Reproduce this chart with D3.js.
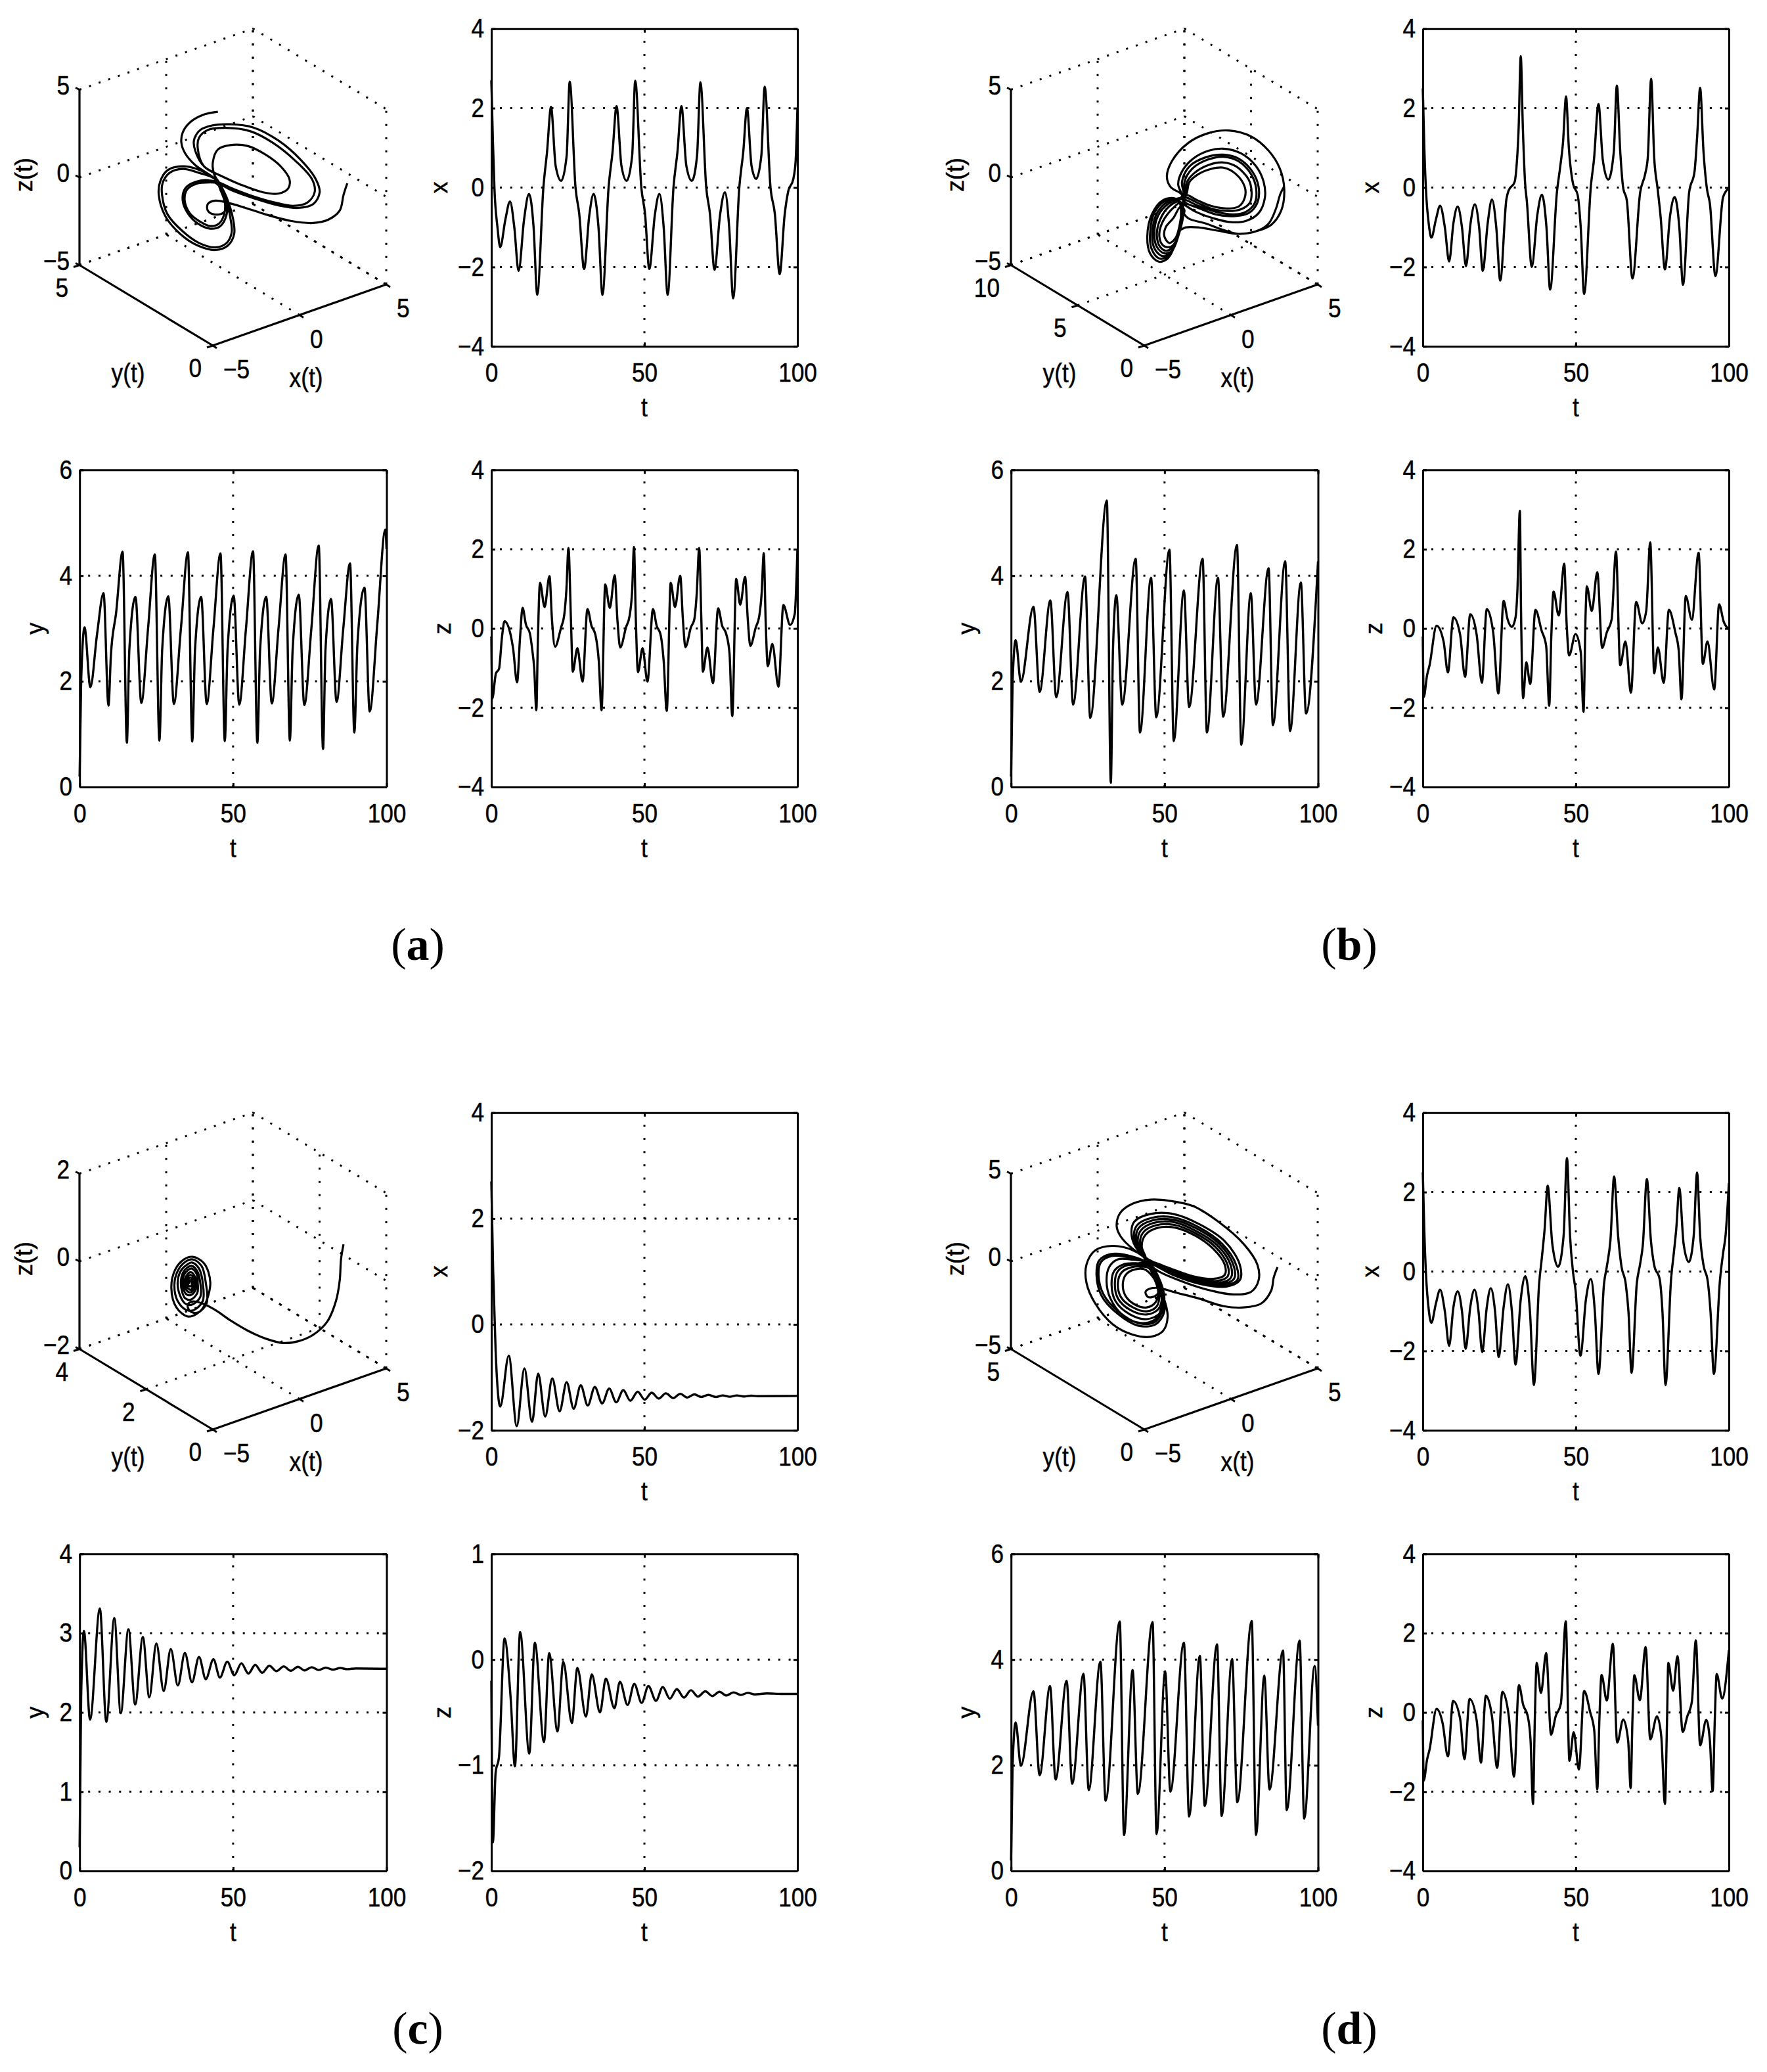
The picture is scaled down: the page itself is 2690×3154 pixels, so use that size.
<!DOCTYPE html>
<html><head><meta charset="utf-8">
<script src="https://cdn.jsdelivr.net/npm/d3@7"></script>
<style>html,body{margin:0;background:#fff}svg{display:block}text{font-family:"Liberation Sans",Arial,sans-serif;fill:#000;stroke:#000;stroke-width:.5px}.cap{stroke-width:0}</style>
</head><body><div id="chart"></div>
<script>
// ---- tick labels ----
const tTicks=[0,50,100];
const xTicksWide=[-4,-2,0,2,4], yTicksWide=[0,2,4,6], zTicksWide=[-4,-2,0,2,4];
const xTicksC=[-2,0,2,4], yTicksC=[0,1,2,3,4], zTicksC=[-2,-1,0,1];
// ---- time series [t, value] ----
const aX=[[0,2.7],[0.5,1.2],[1,0],[2,-1],[2.9,-1.5],[4.6,-.8],[6.1,-.35],[7.5,-1],[8.9,-2.1],[10.7,-.8],[12.3,-.16],[13.8,-1],[15,-2.7],[17,0],[18.2,.9],[19.5,2.03],[21,.55],[22.8,.17],[24.6,.8],[25.6,2.67],[27.5,0],[28.7,-.65],[30.3,-2.05],[32,-.7],[33.4,-.16],[35,-1],[36.3,-2.7],[38.3,0],[39.6,.9],[40.9,2.05],[42.5,.55],[44.2,.17],[46,.8],[47,2.69],[49,0],[50.2,-.65],[51.6,-2.05],[53.4,-.7],[54.9,-.16],[56.3,-1],[57.6,-2.7],[59.5,0],[60.8,.9],[62.1,2.05],[63.7,.55],[65.5,.17],[67.2,.8],[68.3,2.65],[70.2,0],[71.4,-.65],[72.9,-2.07],[74.7,-.7],[76.3,-.12],[77.7,-1],[79,-2.79],[81,0],[82.3,.9],[83.5,2],[85,.55],[86.5,.22],[88.2,.8],[89.3,2.54],[91.2,0],[92.6,-.65],[94.2,-2.18],[95.8,-.7],[97,-.09],[98.6,.2],[99.4,.66],[100,2]];
const aY=[[0,.2],[.5,2],[1.6,3.02],[3.5,1.89],[5.7,2.9],[7.8,3.67],[9.4,1.54],[10.2,2.5],[11.9,3.3],[14,4.45],[15.4,.84],[16.2,2.6],[18.2,3.6],[20.1,1.59],[22.3,3],[24.5,4.4],[26,.88],[26.9,2.6],[28.9,3.61],[30.7,1.57],[33,3],[35.3,4.44],[36.7,.86],[37.6,2.6],[39.6,3.6],[41.4,1.57],[43.6,3],[45.9,4.42],[47.3,.87],[48.2,2.6],[50.2,3.62],[52,1.56],[54.2,3],[56.5,4.46],[57.9,.84],[58.8,2.6],[60.8,3.6],[62.6,1.58],[64.8,3],[67.1,4.4],[68.5,.88],[69.4,2.6],[71.4,3.64],[73.2,1.55],[75.5,3],[77.9,4.57],[79.3,.72],[80.1,2.6],[81.9,3.56],[83.7,1.61],[85.9,3],[88.1,4.23],[89.5,1.03],[90.5,2.7],[92.8,3.77],[94.5,1.43],[97,3.1],[99.6,4.87],[100,4.5]];
const aZ=[[0,-.2],[.3,-1.77],[1.5,-1.13],[2.5,-1.02],[3.5,-.2],[4.3,.18],[6.3,-.16],[7.1,-.5],[8.4,-1.36],[9.4,-.2],[10.2,.52],[11.3,.1],[12.6,-.13],[13.4,-.56],[14,-1],[14.7,-2.06],[15.2,-.3],[15.9,1.15],[17.4,.54],[19,1.32],[19.8,.23],[20.8,-.46],[22.8,.03],[23.8,.33],[24.5,.95],[25.2,2.03],[26,.23],[26.6,-1.09],[28.1,-.5],[29.8,-1.34],[31.4,.49],[32.7,.07],[34,-.16],[35.1,-.82],[36,-2.06],[37.2,1.11],[38.7,.52],[40.3,1.34],[41.2,.2],[42.1,-.48],[44,.03],[45.2,.33],[46,.95],[46.6,2.06],[47.2,.23],[47.9,-1.1],[49.4,-.5],[51,-1.34],[52.8,.49],[54,.07],[55.3,-.16],[56.3,-.82],[57.3,-2.08],[58.6,1.15],[60,.54],[61.7,1.33],[62.6,.2],[63.4,-.47],[65.2,.03],[66.3,.23],[67.1,.88],[67.9,2.03],[68.6,.23],[69.1,-1.09],[70.6,-.48],[72.4,-1.38],[74.1,.51],[75.4,.07],[76.7,-.13],[77.8,-.62],[78.7,-2.21],[80,1.25],[81.3,.6],[82.9,1.3],[83.8,.2],[84.6,-.44],[86.4,.03],[87.5,.3],[88.3,.88],[89,1.9],[89.6,.23],[90.3,-.95],[91.8,-.39],[93.8,-1.47],[95.4,.59],[97.6,.09],[99.1,.36],[100,2]];
const bX=[[0,2.5],[.5,1],[1,0],[2,-.95],[2.8,-1.26],[4.3,-.8],[5.65,-.46],[7.2,-1],[8.6,-1.86],[10,-.9],[11.4,-.48],[12.8,-1],[14.1,-1.98],[15.6,-.9],[17,-.42],[18.4,-1],[19.6,-2.1],[21.2,-.9],[22.6,-.3],[24,-1],[25.3,-2.34],[27.3,-.3],[28,-.08],[30,.14],[30.5,.42],[31.3,1.47],[32,3.31],[32.7,1.47],[33.4,.14],[34,-.35],[35.6,-2],[37.4,-.7],[38.9,-.18],[40.4,-1],[41.6,-2.57],[43.8,-.13],[44.8,.47],[45.8,1.13],[46.8,2.29],[47.7,1.02],[49.1,.09],[50.6,-.19],[51.6,-1.01],[52.7,-2.68],[54.9,.03],[55.9,.69],[57.4,2.1],[58.8,.7],[60.6,.2],[62.4,.9],[63.4,2.57],[64.5,.91],[65.4,.03],[66.7,-.35],[68.5,-2.29],[71,-.13],[72.7,.36],[73.5,.75],[74.6,2.74],[75.6,.75],[76.7,-.02],[77.7,-.74],[79.1,-2.06],[80.8,-.7],[82.3,-.24],[83.8,-1],[85,-2.45],[87,-.13],[88.8,.42],[89.6,1.25],[90.6,2.51],[91.7,.91],[92.8,-.02],[93.8,-.41],[95.6,-2.23],[98.1,-.24],[100,-.02]];
const bY=[[0,.2],[.5,2],[1.5,2.78],[3.2,1.99],[7.3,3.41],[9.3,1.8],[12.8,3.53],[14.7,1.7],[18.4,3.69],[20.2,1.56],[24.1,3.98],[25.8,1.31],[31.2,5.42],[32.5,.08],[33.2,2.6],[34.3,3.63],[36.2,1.56],[40.6,4.32],[42,1.03],[45.6,3.96],[47.3,1.32],[51.6,4.49],[53,.87],[56.3,3.72],[58,1.51],[62.4,4.32],[63.8,1.03],[67.4,3.96],[69.1,1.33],[73.6,4.58],[75,.8],[78.1,3.67],[79.8,1.56],[83.9,4.14],[85.3,1.17],[89.3,4.27],[90.9,1.06],[94.4,3.87],[96.1,1.39],[100,4.27]];
const bZ=[[0,-.2],[.3,-1.73],[1.4,-1.18],[2.2,-.93],[4.5,.07],[6.8,-.33],[8.2,-1.11],[10,.28],[12.2,-.16],[13.8,-1.22],[15.5,.36],[17.6,-.16],[19.3,-1.37],[20.9,.49],[23,-.1],[24.7,-1.64],[26.4,.7],[27.7,.23],[29.1,.04],[30.3,.28],[30.9,.94],[31.7,2.97],[32.1,.4],[32.8,-1.76],[33.8,-.85],[35.1,-1.4],[36.8,.47],[38.8,-.05],[40.3,-.44],[41.3,-1.95],[42,-.16],[42.7,.93],[44.4,.33],[46.2,1.63],[47,.1],[47.8,-.68],[49.9,-.14],[51.6,-.6],[52.5,-2.1],[53.2,.4],[53.6,1.06],[55.2,.44],[57,1.42],[58.6,-.49],[60.1,-.1],[61.7,.23],[63.1,1.94],[64.5,-.93],[66.2,-.33],[68,-1.62],[69.7,.67],[71.7,.13],[73,.45],[74.3,2.17],[75.6,-1.13],[76.8,-.48],[78.7,-1.37],[80.4,.47],[82.5,-.1],[83.6,-.55],[84.5,-1.79],[85.9,.82],[87.9,.22],[90.1,1.91],[91.5,-.89],[93,-.33],[95.2,-1.54],[96.8,.61],[98.3,.17],[100,-.02]];
const cX=[[0,2.7],[.6,1],[1.4,-.5],[2.9,-1.55],[5.7,-.59],[8.3,-1.92],[10.8,-.83],[13.3,-1.84],[15.3,-.93],[17.6,-1.74],[19.9,-1.02],[22.3,-1.64],[24.6,-1.09],[26.9,-1.59],[29.2,-1.15],[31.5,-1.53],[33.8,-1.18],[36.2,-1.49],[38.5,-1.21],[40.8,-1.47],[43.1,-1.24],[45.4,-1.44],[47.8,-1.27],[50.1,-1.42],[52.4,-1.29],[54.7,-1.4],[57,-1.3],[59.4,-1.39],[61.7,-1.31],[64,-1.38],[66.3,-1.32],[68.6,-1.37],[70.9,-1.33],[73.3,-1.37],[75.6,-1.34],[77.9,-1.365],[80.2,-1.34],[82.5,-1.36],[84.9,-1.345],[87,-1.355],[100,-1.35]];
const cY=[[0,.3],[.5,2.2],[1.4,3.03],[3.4,1.91],[6.6,3.31],[8.7,1.88],[11.3,3.19],[13.4,1.99],[15.9,3.05],[18.1,2.1],[20.6,2.95],[22.7,2.19],[25,2.87],[27.4,2.27],[29.7,2.8],[32,2.34],[34.3,2.75],[36.6,2.38],[38.9,2.7],[41.1,2.42],[43.6,2.67],[45.7,2.44],[48.1,2.64],[50.4,2.47],[52.7,2.62],[55,2.49],[57.2,2.6],[59.5,2.5],[61.8,2.59],[64.1,2.52],[66.5,2.58],[68.8,2.525],[71.1,2.575],[73.3,2.53],[75.6,2.57],[77.9,2.535],[80.2,2.565],[82.5,2.54],[84.9,2.56],[87.2,2.545],[90,2.555],[100,2.55]];
const cZ=[[0,-.2],[.5,-1.73],[1.4,-1.07],[2.5,-.92],[4.3,.2],[6.3,-.36],[7.7,-1.01],[9.4,.26],[12.4,-.89],[14.2,.16],[17.2,-.78],[18.9,.06],[21.6,-.68],[23.5,-.02],[26.3,-.6],[28.1,-.08],[30.9,-.54],[32.8,-.14],[35.5,-.5],[37.4,-.18],[40.2,-.46],[42,-.21],[44.5,-.43],[46.7,-.23],[49.1,-.41],[51.3,-.25],[53.8,-.39],[56,-.26],[58.3,-.37],[60.6,-.28],[62.9,-.36],[65.2,-.29],[67.5,-.35],[69.9,-.3],[72.2,-.345],[74.5,-.305],[76.8,-.34],[79.1,-.31],[81.5,-.335],[83.8,-.315],[86.1,-.33],[90,-.32],[95,-.325],[100,-.325]];
const dX=[[0,2.5],[.5,1],[1,0],[2,-1],[2.8,-1.29],[4.3,-.8],[5.65,-.46],[7.2,-1],[8.6,-1.87],[10,-.9],[11.4,-.5],[12.8,-1],[14,-1.95],[15.5,-.9],[16.9,-.46],[18.2,-1],[19.4,-2.03],[20.9,-.9],[22.2,-.42],[23.6,-1],[24.8,-2.15],[26.4,-.9],[27.8,-.32],[29.1,-1],[30.3,-2.34],[32,-.7],[33.5,-.12],[35,-1],[36.3,-2.86],[38,-.31],[38.9,.35],[39.8,1.07],[40.8,2.16],[42.3,.7],[44.2,.12],[46,.9],[47.1,2.86],[48.1,.9],[49.1,-.03],[49.9,-.47],[51.5,-2.12],[53.3,-.7],[54.9,-.19],[56.2,-1],[57.4,-2.58],[59.2,-.31],[60.2,.16],[61.3,.79],[62.5,2.39],[63.8,.9],[64.9,.13],[66.3,-.31],[67.2,-1.02],[68.2,-2.55],[69.9,-.31],[71,.19],[71.9,.68],[73.2,2.33],[74.5,.8],[75.6,.16],[77.4,-.2],[78.3,-1.02],[79.3,-2.86],[81.1,-.2],[82,.46],[82.8,1.07],[83.8,2.1],[85.2,.7],[86.9,.24],[88.5,.9],[89.6,2.49],[90.6,.9],[91.7,.16],[93.1,-.25],[94,-1.02],[95.1,-2.58],[97.1,-.2],[98.1,.46],[98.9,.9],[100,2.23]];
const dY=[[0,.2],[.5,2],[1.5,2.81],[3.2,1.99],[7.3,3.4],[9.3,1.81],[12.7,3.5],[14.5,1.73],[18.1,3.6],[19.9,1.65],[23.6,3.73],[25.3,1.53],[29.1,3.96],[30.8,1.33],[35.4,4.72],[36.8,.68],[39.6,3.8],[41.3,1.46],[46.1,4.71],[47.4,.7],[50.2,3.78],[51.9,1.5],[56.3,4.32],[58,1.03],[61.5,4.07],[63.1,1.23],[67.1,4.29],[68.6,1.04],[72,4.01],[73.7,1.3],[78.4,4.73],[79.8,.68],[82.5,3.7],[84.2,1.54],[88.6,4.17],[89.8,1.15],[94,4.36],[95.5,.99],[98.9,3.88],[100,2.75]];
const dZ=[[0,-.2],[.3,-1.72],[1.4,-1.19],[2.2,-.94],[4.5,.09],[6.5,-.28],[8.2,-1.11],[9.9,.29],[12.2,-.16],[13.6,-1.18],[15.3,.34],[17.6,-.2],[19,-1.27],[20.6,.42],[22.6,-.1],[24.3,-1.4],[26,.52],[28.1,-.1],[29.8,-1.62],[31.4,.69],[32.8,.19],[34.3,-.1],[35.2,-.7],[36,-2.31],[36.6,-.16],[37.2,1.25],[38.6,.49],[40.3,1.5],[41.9,-.56],[43.4,-.1],[45.1,.22],[46.7,2.3],[47.9,-1.22],[49.3,-.5],[51,-1.44],[52.7,.54],[54.7,0],[56,-.45],[57,-1.94],[57.7,-.16],[58.4,.95],[60.1,.3],[62.1,1.73],[63.5,-.76],[65.5,-.18],[67.1,-.72],[67.9,-1.91],[68.5,-.16],[69.1,.94],[70.9,.31],[72.8,1.65],[74.3,-.68],[76.5,-.1],[77.9,-.6],[79.1,-2.31],[79.8,-.16],[80.2,1.25],[81.8,.55],[83.2,1.42],[84.9,-.49],[86.4,-.1],[87.9,.27],[89.2,1.82],[90.6,-.83],[92.6,-.19],[93.8,-.72],[94.7,-1.99],[95.4,-.16],[96,.97],[97.8,.35],[100,1.57]];
// ---- phase portraits as seen on the page: [across, up], read in the 3-D box (0–122 each way) ----
const aTail=[[106.5,62.5],[105,58],[103.5,52],[99,48.5],[93,47.2],[84,48],[74,50.5],[66,53],[59,55],[54,55.8],[51,54.5],[51,52],[53.5,50.5],[57,51],[58.5,53.5],[57.5,58],[55.5,61.5]];
const aLow1=[[52,63.5],[46,63],[42,60.5],[41,56],[43,51],[47,47],[52,45],[56,46],[58.5,50.5],[58.5,55],[56.5,60],[54,64]];
const aLow1b=[[52,62.8],[46.5,62.3],[42.7,60],[41.8,56],[43.8,51],[47.8,47.8],[52,46],[55.5,47],[57.5,50.5],[57.8,55],[56,60],[54,64]];
const aLow2=[[48,67.5],[41,69],[35,67.5],[32,63],[31.5,58],[34,50],[40,43],[47,38.5],[54,36.8],[59,38.5],[61.5,43],[61,49],[58.5,57],[56,62],[53.5,66]];
const aLow2b=[[47.5,66.5],[41,68],[35.8,66.5],[33,62.5],[32.8,58],[35,50.5],[41,44],[47.5,39.5],[54,37.8],[58.5,39.5],[60.5,43.5],[60,49],[58,57],[55.5,62],[53.5,66]];
const aUp1=[[53,70.5],[55,75.5],[60,77.2],[67,76.8],[74,73.5],[80,69],[83.5,64],[83,60.5],[79,58.5],[73,59],[64,62],[57,65]];
const aUp2=[[49.5,69],[46,75],[45.5,79],[48,83],[53,84.8],[60,85.2],[69,84],[79,79],[88,71.5],[94,64],[95.5,59],[93,54.5],[87,53],[79,54],[70,56.5],[60,60],[55,62.5]];
const aUp2b=[[49.5,69],[47,76],[47.5,80],[51,83],[58,83.8],[68,82.5],[77,78],[86,71],[92.5,64],[93.5,59],[90.5,55],[85,53.8],[78,55],[69,57.5],[60,60.8],[55,63]];
const aEnd=[[46,69.5],[42,74],[40.5,78],[41,82],[44,86],[49,88.8],[55,90]];
const phaseA=[...aTail,...aLow1,...aLow2,...aUp1,...aUp2,...aLow1b,...aLow2b,...aUp1,...aUp2b,...aLow1,...aLow2,...aUp1,...aUp2,...aLow1b,...aLow2b,...aUp1,...aUp2b,...aLow1,...aEnd];
const bTail=[[108.5,61],[107,58],[105.5,53],[102.5,47],[97.5,44],[90.5,43],[82.5,44.2],[74.5,45.5],[69.5,45.5],[67,44.5],[67.5,48],[69,52]];
const bLow1=[[67.5,53.5],[64.5,49],[61.5,45.5],[61,42],[63,39.5],[65.5,41.5],[67,46],[68,52]];
const bLow2=[[67.5,55],[63.5,52],[60,47],[59,42],[60.5,38.5],[63.5,38],[66,41],[67.5,48]];
const bLow25=[[66.8,55.5],[62.8,53.5],[59.3,48.5],[58,42.5],[59.3,38],[62,36.5],[65,39],[67.5,47],[68.3,52]];
const bLow3=[[66.5,56],[62.5,54.5],[58.5,50],[57,43],[58,38],[61,35.5],[64,36.5],[66.5,42],[68.5,52]];
const bLow35=[[66.2,56.2],[62,55.2],[57.8,50.5],[56.2,43],[57,37.5],[60,34.5],[63.2,35.5],[66,41],[68.4,52.5]];
const bLow4=[[66,56.3],[61.5,55.8],[57,51],[55.3,43],[56,37],[59,33.5],[62.5,34.5],[65.5,40],[68.3,53]];
const bLow5=[[65.5,56.5],[60.5,56],[56,50.5],[54.2,42],[55.3,35.5],[58.7,32.3],[62.3,33.5],[65.3,39],[68.3,53.5]];
const bUp1=[[68,58],[63.5,61],[62,65],[64,71],[70.5,78],[78.5,81.8],[86.5,82.8],[95.5,80.5],[102.5,75],[107,68],[108.7,60],[107.5,52],[103.5,46.5],[97.5,44],[90.5,43],[84.5,44.5],[77.5,47],[70.5,49],[68,52]];
const bUp2=[[68.5,57],[66.5,62],[68,67],[72.5,72],[78.5,75],[84.5,75.8],[91.5,74],[97.5,69],[100.5,63],[101,57],[98.5,51],[93.5,48],[87.5,47.5],[80.5,49],[73.5,51.5],[68.5,54.5]];
const bUp3=[[68.8,58],[68,63],[71,69],[77.5,72.5],[84.5,73.5],[90.5,72],[96,67],[98.5,61],[98,55],[94.5,51],[88.5,49.8],[81.5,50.5],[74.5,53],[69,55.5]];
const bUp3b=[[69.1,58.5],[69,63],[72,68],[78,71.5],[84.5,72.7],[90.5,71],[95.5,66],[97.5,60.5],[97,55],[93.5,51.5],[88.5,50.5],[81.5,51.5],[74.5,53.8],[69,56.2]];
const bUp4=[[69.5,58.5],[70,63],[73,66.5],[78.5,69.5],[84.5,70.5],[89.5,69],[94.5,64],[95.7,59],[95,55],[91.5,52.5],[86.5,51.8],[80.5,52.5],[74.5,54.8],[69.5,57]];
const bUp5=[[70,59],[71,63],[74.5,66],[79.5,68],[84.5,68.5],[89.5,66],[93,61],[93,57],[90.5,53.5],[85.5,52.8],[79.5,53.8],[74,56],[69.5,58]];
const phaseB=[...bTail,...bLow1,...bLow2,...bLow25,...bLow3,...bLow35,...bLow4,...bLow5,...bUp1,...bLow3,...bLow4,...bUp4,...bLow5,...bUp3,...bUp5,...bLow35,...bUp2,...bLow25,...bLow5,...bUp3b,...bLow4];
const cTail=[[105,71.3],[104,65.5],[103.5,57.5],[102,49.5],[98.5,41.5],[93,36.5],[87,34],[81,33.3],[74,35],[67,38],[60,42],[54,46],[49,48.5],[45,49.3],[43,48],[44,45.5],[47,45],[49.5,47.5]];
const cRing1=[[52,56.5],[49.5,64],[45,66.5],[41.5,65.5],[38,61.5],[36.5,54.5],[38.5,47],[43,43.5],[46.5,44.5],[50.5,48.5]];
const cRing2=[[50.2,56.5],[48.5,63],[45,65.5],[42,64.5],[39,61],[37.7,55.5],[39,49.5],[42.5,46],[45.5,46],[49,49.5]];
const cRing3=[[49,56.5],[47.5,62],[44.7,64.3],[42.5,63.3],[40.2,61],[39,56.5],[40,51.5],[42,48.5],[44.5,48],[48,51]];
const cRing4=[[48,56.5],[46.8,61],[44.5,63],[42.8,62.3],[41.2,60.5],[40.3,57],[40.8,53],[42,50.5],[44.2,50],[46.8,52.5]];
const cRing5=[[47,56.5],[46.5,60],[44.5,62],[43,61.3],[41.8,60],[41,57.2],[41.3,54.5],[42.2,52.3],[44,51.7],[46,53.5]];
const cRing6=[[46.4,56.5],[45.8,59],[44.5,60.5],[43.4,60.3],[42.4,59],[41.8,57],[42,54.8],[42.8,53.3],[44,52.8],[45.4,54.2]];
const cRing7=[[45.6,56.5],[45.2,58.5],[44.3,59.5],[43.4,59.2],[42.8,58],[42.4,56.8],[42.6,55.3],[43.3,54.2],[44.2,53.8],[45,55]];
const cRing8=[[45,56.5],[44.6,58],[44,58.5],[43.4,58],[43.1,57],[43.1,56],[43.6,55.2],[44.2,55.2],[44.7,55.8],[44.6,57],[44,57.5],[43.7,57],[43.7,56.5],[44.1,56.3]];
const phaseC=[...cTail,...cRing1,...cRing2,...cRing3,...cRing4,...cRing5,...cRing6,...cRing7,...cRing8];
const dTail=[[106,62.5],[104.5,58.5],[103.5,53.5],[99.5,48.5],[92.5,47],[84.5,47.5],[74.5,50.5],[64.5,53],[59,54.5],[55.5,54.3],[53.5,53],[54.5,51],[57.5,51.5],[59,54]];
const dLow1=[[53.5,61.5],[49.5,61.7],[46,60],[44.5,56.5],[45.5,51.5],[49.5,48],[54,47],[57.5,49],[58.5,53.5],[57,58],[55,62]];
const dLow2=[[52.5,62.7],[48,62.5],[44,60.5],[42.5,56.5],[43.7,51],[48.5,47],[54,45.5],[58,47.5],[59,52.5],[57.5,58],[55,63]];
const dLow3=[[51.5,63.3],[46.5,63.3],[42.5,61],[41.3,56.5],[42.5,50.5],[47.5,46],[54,44.3],[58.7,46.5],[60,51.5],[58,58.5],[55,63.5]];
const dLow4=[[50.5,64],[45,63.7],[41,61],[40,55.5],[41.5,49.5],[47,44.5],[54,42.5],[59.5,45],[61,50.5],[58.5,59],[55,64]];
const dLowM=[[47.5,65.5],[42.5,65.5],[39,62.5],[38,57],[39.5,50.5],[44.5,44],[51.5,41],[57.5,42.5],[60,48.5],[58.5,56.5],[55,64.5]];
const dLow5=[[48.5,66.5],[39.5,67.5],[35,65],[34,59.5],[36,51.5],[42.5,44.5],[50.5,40],[57.5,40.5],[61,45.5],[60,52.5],[57,60.5],[53.5,65.5]];
const dLow5b=[[48.5,66],[40,66.8],[35.8,64.5],[34.8,59.5],[36.8,52],[43,45.2],[50.5,41],[57,41.3],[60.3,46],[59.5,52.5],[56.7,60.5],[53.5,65.5]];
const dLowBig=[[48.5,69],[40.5,70.7],[33.5,69],[30,63.5],[30,56.5],[33.5,48.5],[40.5,40.5],[48.5,36.5],[55.5,35.7],[60.5,38],[62.3,43.5],[60.5,51.5],[56.5,60.5],[53.5,65]];
const dUpBig=[[48.5,69.5],[43.5,74.5],[42,78.5],[43.5,83.5],[48.5,87],[55.5,88.5],[63.5,88],[72.5,86],[82.5,80],[92.5,71.5],[98,63.5],[98.5,57.5],[95.5,53],[88.5,52],[79.5,53.5],[69.5,56.5],[59.5,60.5],[54.5,63.5]];
const dUp1=[[53.5,66.5],[52,70.5],[53.5,75],[58.5,77.7],[65.5,77.7],[73.5,74.5],[80.5,69.5],[85,63.5],[85,59.5],[80.5,58],[72.5,59],[63.5,62],[56.5,64.5]];
const dUp1b=[[53,67],[51.3,71],[52.5,75.8],[57.5,78.6],[65,78.8],[73.5,75.5],[81.3,70.3],[86.1,63.5],[86.2,59],[81.8,57.2],[73.5,58.3],[64,61.5],[56.5,64.4]];
const dUp2=[[52.5,67.5],[50.5,71.5],[51.5,76.5],[56.5,79.5],[64.5,79.9],[73.5,76.5],[82,71],[87.3,63.5],[87.5,58.5],[83,56.5],[74.5,57.7],[64.5,61],[56.5,64.3]];
const dUp2b=[[52,67.7],[49.8,72.2],[50.7,77.5],[56.2,80.5],[64.5,80.8],[74,77.3],[83,71.3],[88.4,63.5],[88.7,58],[83.8,56],[74.8,57.1],[64.5,60.5],[56.5,64]];
const dUp3=[[51.5,68],[49,73],[50,78.5],[56,81.5],[64.5,81.7],[74.5,78],[84,71.5],[89.5,63.5],[90,57.5],[84.5,55.5],[75,56.5],[64.5,60],[56.5,63.7]];
const dUp4=[[50.5,69],[48,74.5],[49,80],[55.5,83],[64.5,83],[75,79],[85,72.5],[91,63.5],[91,57.5],[85.5,55],[75.5,56],[64.5,59.5],[56.5,63.5]];
const phaseD=[...dTail,...dLow1,...dLow2,...dLow3,...dLow4,...dLowM,...dLowBig,...dUp1,...dUpBig,...dLow5,...dUp3,...dLow5b,...dUp1b,...dLow4,...dUp2,...dUp4,...dLow5,...dUp2b];
// ---- panels ----
const panelA={cap:"a",ox:0,oy:0,phase:phaseA,xs:aX,ys:aY,zs:aZ,t3:{x:[-5,0,5],y:[0,5],z:[-5,0,5]},tx:xTicksWide,ty:yTicksWide,tz:zTicksWide};
const panelB={cap:"b",ox:1418,oy:0,phase:phaseB,xs:bX,ys:bY,zs:bZ,t3:{x:[-5,0,5],y:[0,5,10],z:[-5,0,5]},tx:xTicksWide,ty:yTicksWide,tz:zTicksWide};
const panelC={cap:"c",ox:0,oy:1650,phase:phaseC,xs:cX,ys:cY,zs:cZ,t3:{x:[-5,0,5],y:[0,2,4],z:[-2,0,2]},tx:xTicksC,ty:yTicksC,tz:zTicksC};
const panelD={cap:"d",ox:1418,oy:1650,phase:phaseD,xs:dX,ys:dY,zs:dZ,t3:{x:[-5,0,5],y:[0,5],z:[-5,0,5]},tx:xTicksWide,ty:yTicksWide,tz:zTicksWide};

const FS=40,SX=.88,LW=3;
const svg=d3.select("#chart").append("svg").attr("width",2690).attr("height",3154);
svg.append("rect").attr("width",2690).attr("height",3154).attr("fill","#fff");
const fmt=d=>String(d).replace("-","\u2212");
const squeeze=sel=>sel.each(function(){const t=d3.select(this);const x=+t.attr("x")||0,y=+t.attr("y")||0;t.attr("x",null).attr("y",null).attr("transform",`translate(${x},${y}) scale(${SX},1)`);});
function label(g,str,x,y,anchor){g.append("text").attr("text-anchor",anchor||"middle").attr("font-size",FS).attr("transform",`translate(${x},${y}) scale(${SX},1)`).text(str);}

function plot2D(g,series,name,left,right,top,bottom,yTicks,nameX){
  const x=d3.scaleLinear([0,100],[left,right]);
  const y=d3.scaleLinear(d3.extent(yTicks),[bottom,top]);
  const grid=g.append("g").attr("stroke","#000").attr("stroke-width",LW).attr("fill","none");
  yTicks.slice(1,-1).forEach(v=>grid.append("line").attr("x1",left+13).attr("x2",right).attr("y1",y(v)).attr("y2",y(v)).attr("stroke-dasharray","3 12.7"));
  grid.append("line").attr("x1",x(50)).attr("x2",x(50)).attr("y1",bottom).attr("y2",top).attr("stroke-dasharray","3 17.1");
  const ax=(a,tx,ty)=>{const s=g.append("g").attr("transform",`translate(${tx},${ty})`).call(a);s.selectAll("path,line").attr("stroke","#000").attr("stroke-width",LW);return s;};
  const bot=ax(d3.axisBottom(x).tickValues(tTicks).tickSizeInner(-6).tickSizeOuter(0).tickPadding(25.6).tickFormat(fmt),0,bottom);
  const lef=ax(d3.axisLeft(y).tickValues(yTicks).tickSizeInner(-6).tickSizeOuter(0).tickPadding(11).tickFormat(fmt),left,0);
  ax(d3.axisTop(x).tickValues(tTicks).tickSizeInner(-6).tickSizeOuter(0).tickFormat(""),0,top);
  ax(d3.axisRight(y).tickValues(yTicks).tickSizeInner(-6).tickSizeOuter(0).tickFormat(""),right,0);
  [bot,lef].forEach(s=>s.selectAll("text").attr("font-size",FS).attr("font-family","Liberation Sans").attr("fill","#000").call(squeeze));
  g.append("path").datum(series).attr("fill","none").attr("stroke","#000").attr("stroke-width",3.4).attr("stroke-linejoin","round")
    .attr("d",d3.line().x(d=>x(d[0])).y(d=>y(d[1])).curve(d3.curveMonotoneX));
  label(g,"t",(left+right)/2,bottom+107);
  g.append("text").attr("text-anchor","middle").attr("font-size",36).attr("transform",`translate(${left+nameX},${(top+bottom)/2}) rotate(-90)`).text(name);
}

function plot3D(g,p){
  const O=[324,526],Ex=[264,-93],Ey=[-203,-122.5],Ez=[0,-267];
  const fx=d3.scaleLinear(d3.extent(p.t3.x),[0,1]),fy=d3.scaleLinear(d3.extent(p.t3.y),[0,1]),fz=d3.scaleLinear(d3.extent(p.t3.z),[0,1]);
  const P=(x,y,z)=>{const a=fx(x),b=fy(y),c=fz(z);return[O[0]+a*Ex[0]+b*Ey[0]+c*Ez[0],O[1]+a*Ex[1]+b*Ey[1]+c*Ez[1]];};
  const [x0,x1]=d3.extent(p.t3.x),[y0,y1]=d3.extent(p.t3.y),[z0,z1]=d3.extent(p.t3.z);
  const seg=(a,b,dash,w)=>g.append("line").attr("x1",a[0]).attr("y1",a[1]).attr("x2",b[0]).attr("y2",b[1]).attr("stroke","#000").attr("stroke-width",w||LW).attr("stroke-dasharray",dash||null);
  const DS="3 12.5",DV="3 17.1";
  p.t3.z.forEach(z=>{seg(P(x0,y1,z),P(x1,y1,z),DS);seg(P(x1,y1,z),P(x1,y0,z),DS);});
  p.t3.x.filter(x=>x!==x0).forEach(x=>{seg(P(x,y1,z0),P(x,y1,z1),DV);seg(P(x,y0,z0),P(x,y1,z0),DS);});
  p.t3.y.forEach(y=>{seg(P(x1,y,z0),P(x1,y,z1),DV);if(y!==y0)seg(P(x0,y,z0),P(x1,y,z0),DS);});
  seg(P(x0,y1,z0),P(x0,y1,z1),null,3.2);seg(P(x0,y0,z0),P(x0,y1,z0),null,3.2);seg(P(x0,y0,z0),P(x1,y0,z0),null,3.2);
  p.t3.z.forEach(z=>{const a=P(x0,y1,z);seg(a,[a[0]-6,a[1]-3]);label(g,fmt(z),a[0]-15,a[1]+7,"end");});
  p.t3.y.forEach(y=>{const a=P(x0,y,z0);seg(a,[a[0]-9,a[1]+3]);label(g,fmt(y),a[0]-17,a[1]+48,"end");});
  p.t3.x.forEach(x=>{const a=P(x,y0,z0);seg(a,[a[0]+6,a[1]+4]);label(g,fmt(x),a[0]+16,a[1]+50,"start");});
  const u=d3.scaleLinear([0,122],[121.2,588]),v=d3.scaleLinear([0,122],[526,43.7]);
  g.append("path").datum(p.phase).attr("fill","none").attr("stroke","#000").attr("stroke-width",3.2).attr("stroke-linejoin","round")
    .attr("d",d3.line().x(d=>u(d[0])).y(d=>v(d[1])).curve(d3.curveCatmullRom.alpha(.5)));
  label(g,"y(t)",195,582);label(g,"x(t)",466,589);
  g.append("text").attr("text-anchor","middle").attr("font-size",36).attr("transform","translate(49,266) rotate(-90)").text("z(t)");
}

[panelA,panelB,panelC,panelD].forEach(p=>{
  const g=svg.append("g").attr("transform",`translate(${p.ox},${p.oy})`);
  plot3D(g,p);
  plot2D(g,p.xs,"x",748,1214,43.7,527.3,p.tx,-67);
  plot2D(g,p.ys,"y",121.2,588.5,715.3,1198,p.ty,-55);
  plot2D(g,p.zs,"z",748,1214,715.3,1198,p.tz,-62);
  const c=g.append("text").attr("class","cap").attr("x",636).attr("y",1461).attr("text-anchor","middle").attr("font-size",70).style("font-family","'Liberation Serif',serif");
  c.append("tspan").text("(");c.append("tspan").attr("font-weight","bold").text(p.cap);c.append("tspan").text(")");
});
</script></body></html>
